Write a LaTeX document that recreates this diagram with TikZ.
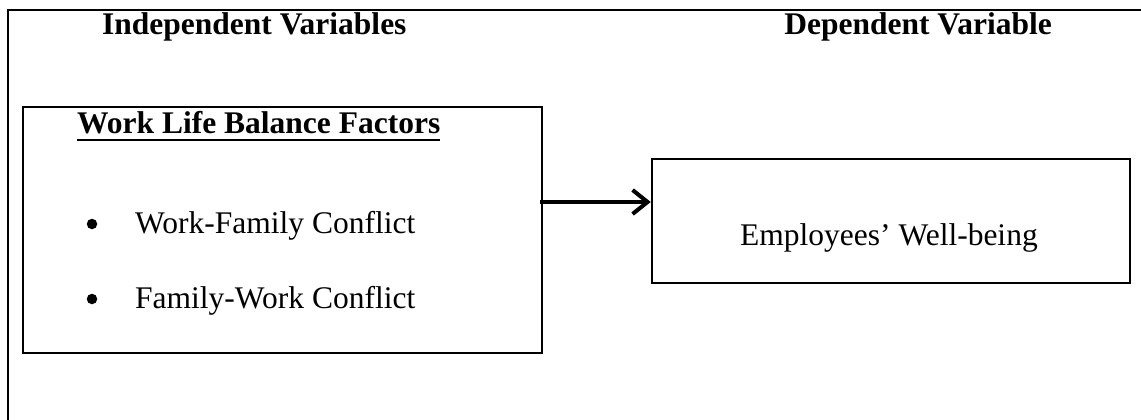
\documentclass[tikz,border=0pt]{standalone}
\usepackage{fontspec}
\setmainfont{Liberation Serif}
\usetikzlibrary{arrows.meta}

\tikzset{
  frame/.style={line width=2pt},
  box/.style={draw, line width=2.5pt, inner sep=0pt},
  txt/.style={inner sep=0pt, anchor=base west, font=\fontsize{31.5}{38}\selectfont},
  head/.style={txt, font=\fontsize{31.5}{38}\selectfont\bfseries},
  dot/.style={circle, fill, inner sep=0pt, minimum size=10.5pt},
  link/.style={line width=4pt, -{Straight Barb[length=15pt,width=24pt]}},
}

\begin{document}
\begin{tikzpicture}[x=1pt,y=-1pt]

        \useasboundingbox (0,0) rectangle (1141,420);
        % outer frame, only its left and top edges show
        \draw[frame] (8,420) -- (8,10) -- (1141,10);

        \node[head] (indep) at (102,35) {Independent Variables};
        \node[head, anchor=base east] (dep) at (1052,35) {Dependent Variable};

        % left box
        \node[box, minimum width=519pt, minimum height=246pt] (wlb) at (282.5,230) {};
        \node[head] (wlbtitle) at (77,133) {Work Life Balance Factors};
        \draw[line width=2.5pt] ([yshift=-7pt]wlbtitle.base west) -- ([yshift=-7pt]wlbtitle.base east);
        \node[dot] (bulleta) at (92,224) {};
        \node[txt] (conflicta) at (135,233) {Work-Family Conflict};
        \node[dot] (bulletb) at (92,299) {};
        \node[txt] (conflictb) at (135,308) {Family-Work Conflict};

        % right box
        \node[box, minimum width=478pt, minimum height=124pt] (emp) at (891,221) {};
        \node[txt] (emptext) at (740,245) {Employees’ Well-being};

        \coordinate (linky) at (0,202);
        \draw[link] ([xshift=-3pt]wlb.east |- linky) -- (emp.west |- linky);

    \end{tikzpicture}
\end{document}
